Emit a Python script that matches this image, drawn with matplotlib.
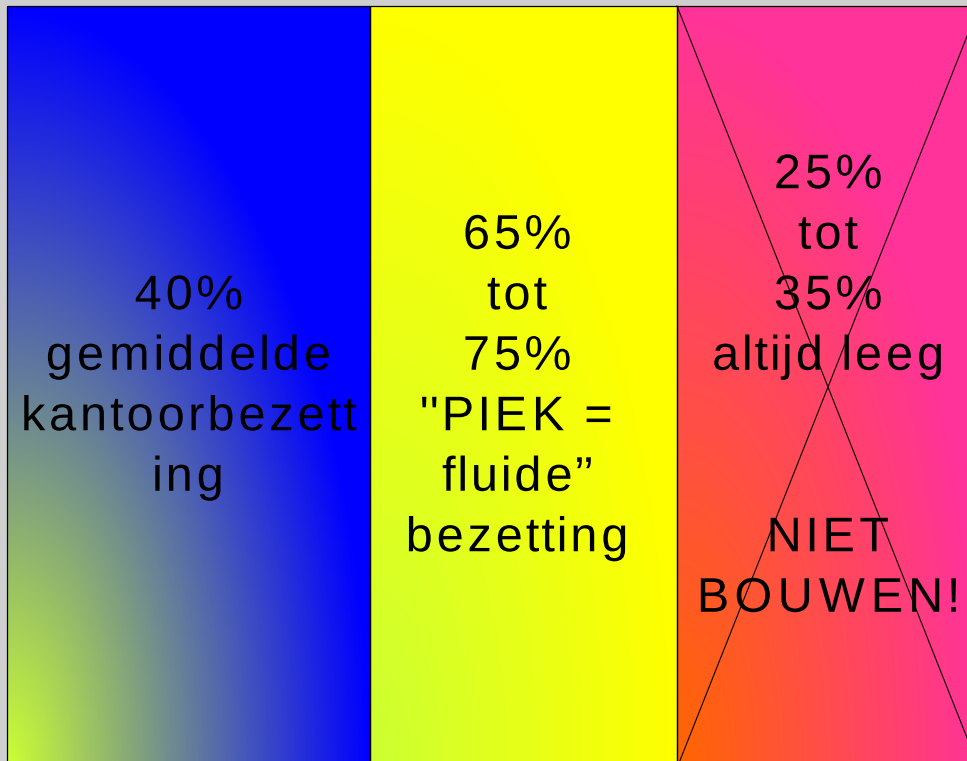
import matplotlib

matplotlib.use("Agg")
import matplotlib.pyplot as plt  # noqa: E402
import numpy as np  # noqa: E402
from matplotlib.patches import Rectangle  # noqa: E402
from matplotlib.path import Path  # noqa: E402
from matplotlib.patheffects import AbstractPathEffect  # noqa: E402
from matplotlib.transforms import IdentityTransform  # noqa: E402

W_PX, H_PX, DPI = 967, 761, 100

# panel contents, one list per column
panel_lines = [
    ["40%", "gemiddelde", "kantoorbezett", "ing"],
    ["65%", "tot", "75%", '"PIEK =', "fluide\u201d", "bezetting"],
    ["25%", "tot", "35%", "altijd leeg", "", "", "NIET", "BOUWEN!"],
]
# gradient colours: bottom-left corner -> far corner
corner_colors = ["#ccff33", "#ccff33", "#ff6600"]
far_colors = ["#0000ff", "#ffff00", "#ff3399"]
crossed = [False, False, True]

# layout (pixels, y downwards)
edges_x = [7, 370, 677, 979]
top_y, bottom_y = 6, 768
text_x = [188.5, 517, 828]
line_gap = 60.5
block_mid = 400


class Tracking(AbstractPathEffect):
    """Spread glyphs apart (letter spacing) without stretching them."""

    def __init__(self, factor=1.15):
        super().__init__()
        self.factor = factor

    def draw_path(self, renderer, gc, tpath, affine, rgbFace=None):
        verts = affine.transform(tpath.vertices)
        codes = tpath.codes
        if codes is None or len(verts) == 0:
            renderer.draw_path(gc, tpath, affine, rgbFace)
            return
        real = codes != Path.CLOSEPOLY
        mid = 0.5 * (verts[real, 0].min() + verts[real, 0].max())
        starts = list(np.flatnonzero(codes == Path.MOVETO)) + [len(codes)]
        out = verts.copy()
        for a, b in zip(starts[:-1], starts[1:]):
            sel = real[a:b]
            xs = verts[a:b, 0][sel]
            cx = 0.5 * (xs.min() + xs.max())
            out[a:b, 0] += (self.factor - 1) * (cx - mid)
        renderer.draw_path(gc, Path(out, codes), IdentityTransform(), rgbFace)


def hex_rgb(c):
    c = c.lstrip("#")
    return np.array([int(c[i : i + 2], 16) for i in (0, 2, 4)]) / 255.0


def corner_gradient(c0, c1, n=300):
    xs = np.linspace(0, 1, n)
    ys = np.linspace(1, 0, n)  # row 0 is the top
    gx, gy = np.meshgrid(xs, ys)
    t = np.clip(np.sqrt(gx**2 + gy**2), 0, 1)[..., None]
    return hex_rgb(c0) * (1 - t) + hex_rgb(c1) * t


fig = plt.figure(figsize=(W_PX / DPI, H_PX / DPI), dpi=DPI)
fig.patch.set_facecolor("#cfcfcf")
ax = fig.add_axes([0, 0, 1, 1])
ax.axis("off")

for i, lines in enumerate(panel_lines):
    x0, x1 = edges_x[i], edges_x[i + 1]
    img = corner_gradient(corner_colors[i], far_colors[i])
    ax.imshow(img, extent=(x0, x1, bottom_y, top_y), origin="upper",
              interpolation="bilinear", aspect="auto", zorder=1)
    ax.add_patch(Rectangle((x0, top_y), x1 - x0, bottom_y - top_y, fill=False,
                           edgecolor="black", lw=0.9, zorder=3))
    if crossed[i]:
        ax.plot([x0, x1], [top_y, bottom_y], color="black", lw=0.8, zorder=3)
        ax.plot([x0, x1], [bottom_y, top_y], color="black", lw=0.8, zorder=3)
    n = len(lines)
    for j, s in enumerate(lines):
        if not s:
            continue
        yb = block_mid + (j - (n - 1) / 2) * line_gap
        ax.text(text_x[i], yb, s, ha="center", va="baseline", fontsize=35,
                family="Liberation Sans", color="black", zorder=4,
                path_effects=[Tracking(1.15)])

ax.set_xlim(0, W_PX)
ax.set_ylim(H_PX, 0)
fig.savefig("out.png", dpi=DPI, facecolor=fig.get_facecolor())
